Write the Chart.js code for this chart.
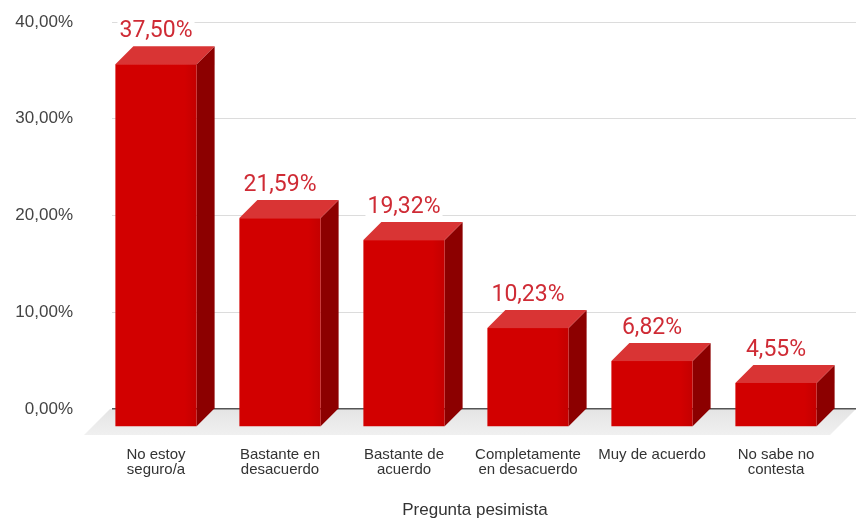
<!DOCTYPE html>
<html lang="es">
<head>
<meta charset="utf-8">
<title>Pregunta pesimista</title>
<script src="https://cdn.jsdelivr.net/npm/chart.js@4.4.1/dist/chart.umd.min.js"></script>
<style>
  html, body { margin: 0; padding: 0; background: #fff; }
  .chart-wrap { width: 856px; height: 522px; position: relative; }
</style>
</head>
<body>
<div class="chart-wrap">
  <canvas id="grafico"></canvas>
</div>
<script>
// Datos de la pregunta
const categorias = [
  ["No estoy", "seguro/a"],
  ["Bastante en", "desacuerdo"],
  ["Bastante de", "acuerdo"],
  ["Completamente", "en desacuerdo"],
  ["Muy de acuerdo"],
  ["No sabe no", "contesta"]
]
const porcentajes = [37.50, 21.59, 19.32, 10.23, 6.82, 4.55]
const ticksY = [0, 10, 20, 30, 40]
const tituloX = "Pregunta pesimista"

// Colores de las caras de la barra 3D
const colores = {
  frente: "#d20000",
  frenteOscuro: "#c40000",
  arriba: "#d93434",
  lado: "#8c0000",
  etiqueta: "#cf2b35",
}

const PROF = 18 // desplazamiento de profundidad de las barras
const PROF_SUELO = 26
const FUENTE = "'Liberation Sans', Arial, sans-serif"

const fmt = (v) => v.toFixed(2).replace(".", ",") + "%"

// Plugin que dibuja el suelo, las barras en perspectiva y el título del eje
const barras3d = {
  id: "barras3d",
  beforeDraw(chart) {
    const { ctx, chartArea } = chart
    const y0 = chart.scales.y.getPixelForValue(0)
    ctx.save()
    const g = ctx.createLinearGradient(0, y0, 0, y0 + PROF_SUELO)
    g.addColorStop(0, "#e4e4e4")
    g.addColorStop(1, "#f0f0f0")
    ctx.fillStyle = g
    ctx.beginPath()
    ctx.moveTo(chartArea.left - 2, y0)
    ctx.lineTo(chartArea.right, y0)
    ctx.lineTo(chartArea.right - PROF_SUELO, y0 + PROF_SUELO)
    ctx.lineTo(chartArea.left - 2 - PROF_SUELO, y0 + PROF_SUELO)
    ctx.closePath()
    ctx.fill()
    ctx.restore()
  },
  afterDatasetsDraw(chart) {
    const { ctx } = chart
    const meta = chart.getDatasetMeta(0)
    ctx.save()
    meta.data.forEach((bar, i) => {
      const { x, y, base, width } = bar.getProps(["x", "y", "base", "width"], true)
      const bl = x - width / 2
      const br = x + width / 2
      const fl = bl - PROF
      const fr = br - PROF
      const fy = y + PROF
      const fb = base + PROF

      // cara lateral
      ctx.fillStyle = colores.lado
      ctx.beginPath()
      ctx.moveTo(fr, fy)
      ctx.lineTo(br, y)
      ctx.lineTo(br, base)
      ctx.lineTo(fr, fb)
      ctx.closePath()
      ctx.fill()

      // cara superior
      ctx.fillStyle = colores.arriba
      ctx.beginPath()
      ctx.moveTo(fl, fy)
      ctx.lineTo(fr, fy)
      ctx.lineTo(br, y)
      ctx.lineTo(bl, y)
      ctx.closePath()
      ctx.fill()

      // cara frontal
      const g = ctx.createLinearGradient(fl, 0, fr, 0)
      g.addColorStop(0, colores.frente)
      g.addColorStop(0.85, colores.frente)
      g.addColorStop(1, colores.frenteOscuro)
      ctx.fillStyle = g
      ctx.fillRect(fl, fy, fr - fl, fb - fy)

      // etiqueta con el valor
      const texto = fmt(porcentajes[i])
      ctx.font = "23px Roboto"
      ctx.textAlign = "center"
      ctx.textBaseline = "middle"
      const w = ctx.measureText(texto).width
      const ly = y - 15
      ctx.fillStyle = "#fff"
      ctx.fillRect(x - PROF - w / 2 - 2, ly - 12, w + 4, 24)
      ctx.fillStyle = colores.etiqueta
      ctx.fillText(texto, x - PROF, ly)
    })
    ctx.restore()
  },
  afterDraw(chart) {
    // título del eje X, centrado bajo las caras frontales
    const { ctx, chartArea } = chart
    ctx.save()
    ctx.font = "17px " + FUENTE
    ctx.fillStyle = "#333"
    ctx.textAlign = "center"
    ctx.textBaseline = "middle"
    ctx.fillText(tituloX, (chartArea.left + chartArea.right) / 2 - PROF / 2, 510)
    ctx.restore()
  },
}

new Chart(document.getElementById("grafico"), {
  type: "bar",
  data: {
    labels: categorias,
    datasets: [
      {
        data: porcentajes,
        backgroundColor: "rgba(0,0,0,0)",
        barPercentage: 0.655,
        categoryPercentage: 1,
      },
    ],
  },
  options: {
    responsive: true,
    maintainAspectRatio: false,
    animation: false,
    layout: { padding: { left: 0, right: 0, top: 22, bottom: 0 } },
    plugins: {
      legend: { display: false },
      tooltip: { enabled: false },
    },
    scales: {
      x: {
        grid: { display: false },
        border: { display: false },
        afterFit: (s) => {
          s.height = 113
          s.paddingLeft = 0
          s.paddingRight = 0
        },
        ticks: {
          color: "#333",
          font: { family: FUENTE, size: 15, lineHeight: 1 },
          padding: 30,
          labelOffset: -PROF,
          maxRotation: 0,
          autoSkip: false,
        },
      },
      y: {
        min: 0,
        max: 40,
        afterFit: (s) => {
          s.width = 112
          s.paddingTop = 0
          s.paddingBottom = 0
        },
        afterBuildTicks: (s) => { s.ticks = ticksY.map((v) => ({ value: v })) },
        border: { display: false },
        grid: {
          drawTicks: false,
          color: (c) => (c.tick && c.tick.value === 0 ? "#555" : "#dcdcdc"),
          lineWidth: (c) => (c.tick && c.tick.value === 0 ? 1.5 : 1),
        },
        ticks: {
          color: "#444",
          padding: 39,
          font: { family: FUENTE, size: 17 },
          callback: (v) => fmt(v),
        },
      },
    },
  },
  plugins: [barras3d],
})
</script>
</body>
</html>
